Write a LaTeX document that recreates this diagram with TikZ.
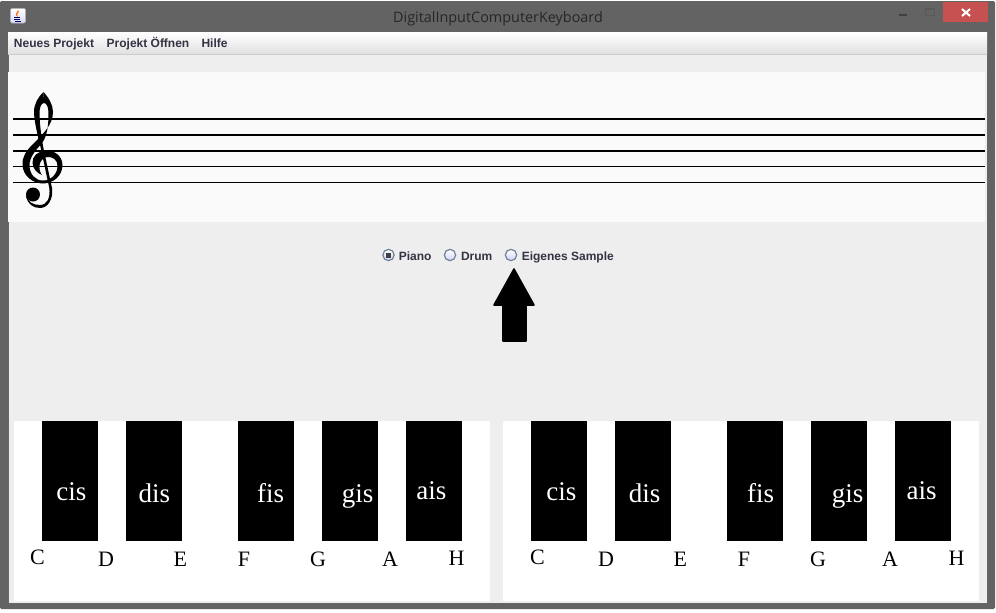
\documentclass[tikz,border=0pt]{standalone}
\usepackage{fontspec}
\setmainfont{Liberation Serif}
\newfontfamily\menufont{Liberation Sans}
\newfontfamily\titlefont{Open Sans}
\usepackage{xcolor}
\definecolor{rahmen}{HTML}{636363}
\definecolor{panel}{HTML}{EEEEEE}
\definecolor{notenfeld}{HTML}{FAFAFA}
\definecolor{schliessen}{HTML}{C75050}
\definecolor{menutext}{HTML}{333344}
\definecolor{radiorand}{HTML}{6F8296}
\tikzset{
  schwarz/.style={fill=black, draw=none, minimum width=42pt, minimum height=90pt, inner sep=0pt, anchor=north west},
  weiss/.style={fill=white, draw=none, minimum width=357pt, minimum height=135pt, inner sep=0pt, anchor=north west},
  taste/.style={white, font=\fontsize{20.25}{24}\selectfont, inner sep=0pt, anchor=base},
  ton/.style={black, font=\fontsize{16.5}{20}\selectfont, inner sep=0pt, anchor=base},
  menu/.style={menutext, font=\menufont\bfseries\fontsize{9}{11}\selectfont, inner sep=0pt, anchor=base},
  radio/.style={circle, draw=radiorand, line width=.9pt, top color=white, bottom color=blue!18, minimum size=8.5pt, inner sep=0pt},
  notenlinie/.style={black, line width=1.15pt},
}
\begin{document}
\begin{tikzpicture}[x=.75pt,y=-.75pt]
\useasboundingbox (0,0) rectangle (996,612);
% fenster
\fill[white] (0,0) rectangle (996,612);
\fill[rahmen, rounded corners=1pt] (0,1) rectangle (995,609);
\fill[panel] (8,32) rectangle (987,603);
\draw[black!60, line width=.6pt] (8,32) rectangle (987,603);
\node[inner sep=0pt, anchor=base, text=black!85, font=\titlefont\fontsize{10.8}{13}\selectfont] (titel) at (498,22) {DigitalInputComputerKeyboard};
% fensterknoepfe
\fill[schliessen] (943,2) rectangle (988,22);
\draw[white, line width=1.5pt] (962,9) -- (970,16) (970,9) -- (962,16);
\fill[black!75] (899,14) rectangle (907,16);
\draw[black!65, line width=.8pt] (925.5,8.5) rectangle (934.5,15.5);
\draw[black!65, line width=1.3pt] (925.5,9.2) -- (934.5,9.2);
% java icon
\shade[top color=white, bottom color=blue!15, draw=gray!60, rounded corners=1pt] (10.5,8.5) rectangle (25.5,23);
\fill[orange!85!red] (18,10) .. controls (21,12) and (15,14) .. (18,17) .. controls (13,15) and (18,12) .. (18,10);
\draw[blue!35!black, line width=.7pt] (14,17) -- (20,17) (14,19) -- (20,19) (15,21) -- (21,21);
% menu
\shade[top color=white, bottom color=black!12] (8,32) rectangle (987,54);
\draw[black!20, line width=.75pt] (8,54.5) -- (987,54.5);
\node[menu] (neu) at (54,47) {Neues Projekt};
\node[menu] (offen) at (148,47) {Projekt Öffnen};
\node[menu] (hilfe) at (214.5,47) {Hilfe};
% notenfeld
\fill[notenfeld] (8,72) rectangle (985,222);
\draw[notenlinie] (13,119.2) -- (985,119.2);
\draw[notenlinie] (13,135.2) -- (985,135.2);
\draw[notenlinie] (13,151) -- (985,151);
\draw[notenlinie] (13,166.5) -- (985,166.5);
\draw[notenlinie] (13,182.5) -- (985,182.5);
% violinschluessel
\fill[black] (43.5,92) .. controls (49,98) and (53,105) .. (53,112) .. controls (53,125) and (42,135) .. (33,144)
  .. controls (26,151) and (22,157) .. (22.5,165) .. controls (23,176) and (33,183.5) .. (43,183.5)
  .. controls (54,183.5) and (62.5,175) .. (62.5,165) .. controls (62.5,156) and (54,150) .. (46,150.5)
  .. controls (38,151) and (32,156) .. (32.5,163) .. controls (33,169) and (37,173) .. (42,175)
  .. controls (38,170) and (38,159) .. (47,157) .. controls (53,156.5) and (57.5,160) .. (57.5,166)
  .. controls (57.5,174) and (51,180.5) .. (43,180.5) .. controls (35,180.5) and (29.5,174) .. (29.5,165)
  .. controls (29.5,157) and (36,150) .. (42,143) .. controls (47.5,136) and (48.5,124) .. (48.5,113)
  .. controls (48.5,107) and (46.5,103) .. (44,103) -- cycle;
\fill[black] (43.5,92) .. controls (38,97) and (34,104) .. (34,112) .. controls (34,120) and (37.5,135) .. (40.5,147)
  -- (49.3,188) .. controls (50.5,198) and (47,205) .. (40,205) .. controls (33,205) and (28,202) .. (26.5,196)
  -- (26,197) .. controls (28,204) and (33,208) .. (40,208) .. controls (48,208) and (53.5,199) .. (52,188)
  -- (43.2,147) .. controls (41,135) and (39.5,122) .. (39.5,113) .. controls (39.5,108) and (41,103) .. (44,103) -- cycle;
\fill[black] (33,194.5) circle (7);
% auswahl
\node[radio] (rpiano) at (388.5,255) {};
\fill[black!75] (386,252.5) rectangle (391,257.5);
\node[radio] (rdrum) at (450,255) {};
\node[radio] (rsample) at (511,255) {};
\node[menu] (piano) at (415.2,260) {Piano};
\node[menu] (drum) at (476.7,260) {Drum};
\node[menu] (sample) at (567.8,260) {Eigenes Sample};
% pfeil
\filldraw[black, line width=1.2pt, line join=round] (514,269) -- (534,305) -- (526,305) -- (526,341) -- (503,341) -- (503,305) -- (494,305) -- cycle;
% linke tastatur
\node[weiss] (linksweiss) at (14,421) {};
\node[schwarz] (cisL) at (42,421) {};
\node[schwarz] (disL) at (126,421) {};
\node[schwarz] (fisL) at (238,421) {};
\node[schwarz] (gisL) at (322,421) {};
\node[schwarz] (aisL) at (406,421) {};
\node[taste] at (71.3,500) {cis};
\node[taste] at (154.3,502) {dis};
\node[taste] at (270.7,502) {fis};
\node[taste] at (357.7,502) {gis};
\node[taste] at (431.3,499) {ais};
\node[ton] at (37.5,564) {C};
\node[ton] at (106,566) {D};
\node[ton] at (180.3,566) {E};
\node[ton] at (244,566) {F};
\node[ton] at (318,566) {G};
\node[ton] at (390,566) {A};
\node[ton] at (456.5,565) {H};
% rechte tastatur
\node[weiss] (rechtsweiss) at (503,421) {};
\node[schwarz] (cisR) at (531,421) {};
\node[schwarz] (disR) at (615,421) {};
\node[schwarz] (fisR) at (727,421) {};
\node[schwarz] (gisR) at (811,421) {};
\node[schwarz] (aisR) at (895,421) {};
\node[taste] at (561.3,500) {cis};
\node[taste] at (644.5,502) {dis};
\node[taste] at (760.7,502) {fis};
\node[taste] at (847.7,502) {gis};
\node[taste] at (921.5,499) {ais};
\node[ton] at (537.5,564) {C};
\node[ton] at (606,566) {D};
\node[ton] at (680.3,566) {E};
\node[ton] at (744,566) {F};
\node[ton] at (818,566) {G};
\node[ton] at (890,566) {A};
\node[ton] at (956.5,565) {H};
\end{tikzpicture}
\end{document}
